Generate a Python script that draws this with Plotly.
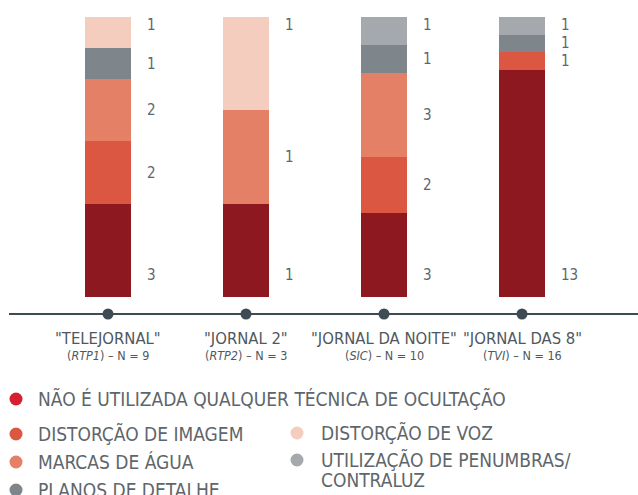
import plotly.graph_objects as go

# --- data -------------------------------------------------------------
programs = ['"TELEJORNAL"', '"JORNAL 2"', '"JORNAL DA NOITE"', '"JORNAL DAS 8"']
channels = ["RTP1", "RTP2", "SIC", "TVI"]

series_names = [
    "NÃO É UTILIZADA QUALQUER TÉCNICA DE OCULTAÇÃO",
    "DISTORÇÃO DE IMAGEM",
    "MARCAS DE ÁGUA",
    "PLANOS DE DETALHE",
    "DISTORÇÃO DE VOZ",
    "UTILIZAÇÃO DE PENUMBRAS/<br>CONTRALUZ",
]
nao_ocultacao = [3, 1, 3, 13]
distorcao_imagem = [2, 0, 2, 1]
marcas_agua = [2, 1, 3, 0]
planos_detalhe = [1, 0, 1, 1]
distorcao_voz = [1, 1, 0, 0]
penumbras = [0, 0, 1, 1]
series_values = [nao_ocultacao, distorcao_imagem, marcas_agua,
                 planos_detalhe, distorcao_voz, penumbras]

bar_colors = ["#8E1820", "#DB5742", "#E38066", "#7E868C", "#F4CDBF", "#A5A8AC"]
dot_colors = ["#D42030", "#DB5742", "#E38066", "#7E868C", "#F4CDBF", "#A5A8AC"]

FONT = "Liberation Sans Narrow, DejaVu Sans Condensed, sans-serif"
TEXT = "#5E666B"
W, H = 638, 495

def px_x(p):
    return p / W

def px_y(p):
    return (H - p) / H

x = list(range(len(programs)))
totals = [sum(s[i] for s in series_values) for i in x]

fig = go.Figure()
for name, vals, col in zip(series_names, series_values, bar_colors):
    fig.add_trace(go.Bar(x=x, y=vals, name=name, marker_color=col,
                         marker_line_width=0, width=0.333,
                         showlegend=False, hoverinfo="skip"))

# value labels to the right of each bar
for i in x:
    segs = [(s[i]) for s in series_values]
    nz = [k for k, v in enumerate(segs) if v > 0]
    cum = 0
    for j, k in enumerate(nz):
        frac = segs[k] / totals[i]
        if j == 0:
            ypos = 0.08
        elif j == len(nz) - 1:
            ypos = 0.97
        else:
            ypos = cum + frac / 2
        cum += frac
        fig.add_annotation(x=i + 0.27, y=ypos, xref="x", yref="y",
                           text=str(segs[k]), showarrow=False,
                           xanchor="left", yanchor="middle",
                           font=dict(family=FONT, size=15, color=TEXT))

# baseline with markers
axis_y = -0.0607
fig.add_shape(type="line", xref="paper", yref="y", x0=px_x(9), x1=1,
              y0=axis_y, y1=axis_y, line=dict(color="#3F4B53", width=2))
fig.add_trace(go.Scatter(x=x, y=[axis_y] * len(x), mode="markers",
                         marker=dict(size=11, color="#3F4B53"),
                         cliponaxis=False, showlegend=False, hoverinfo="skip"))

# category labels
for i, (prog, ch) in enumerate(zip(programs, channels)):
    fig.add_annotation(x=i, y=px_y(338), xref="x", yref="paper", text=prog,
                       showarrow=False, xanchor="center", yanchor="middle",
                       font=dict(family=FONT, size=16.5, color="#4F585E"))
    fig.add_annotation(x=i, y=px_y(355), xref="x", yref="paper",
                       text=f"(<i>{ch}</i>) – N = {totals[i]}",
                       showarrow=False, xanchor="center", yanchor="middle",
                       font=dict(family=FONT, size=12.5, color="#4F585E"))

# legend, drawn by hand
legend_pos = [
    (16, 36, [399]),
    (16, 36, [434]),
    (16, 36, [462]),
    (16, 36, [490]),
    (297, 319, [433]),
    (297, 319, [460, 480]),
]
for name, col, (dx, tx, rows) in zip(series_names, dot_colors, legend_pos):
    fig.add_shape(type="circle", xref="paper", yref="paper",
                  xsizemode="pixel", ysizemode="pixel",
                  xanchor=px_x(dx), yanchor=px_y(rows[0]),
                  x0=-6.5, x1=6.5, y0=-6.5, y1=6.5,
                  fillcolor=col, line_width=0)
    for line, ry in zip(name.split("<br>"), rows):
        fig.add_annotation(x=px_x(tx), y=px_y(ry), xref="paper", yref="paper",
                           text=line, showarrow=False,
                           xanchor="left", yanchor="middle",
                           font=dict(family=FONT, size=19, color=TEXT))

y_lo = -0.1
fig.update_layout(
    width=W, height=H,
    margin=dict(l=0, r=0, t=0, b=0),
    paper_bgcolor="white", plot_bgcolor="white",
    barmode="stack", barnorm="fraction",
    xaxis=dict(range=[-108 / 138, (W - 108) / 138], visible=False,
               fixedrange=True),
    yaxis=dict(range=[y_lo, 1], domain=[px_y(325), px_y(17)],
               visible=False, fixedrange=True),
)

fig.write_html("out.html")
